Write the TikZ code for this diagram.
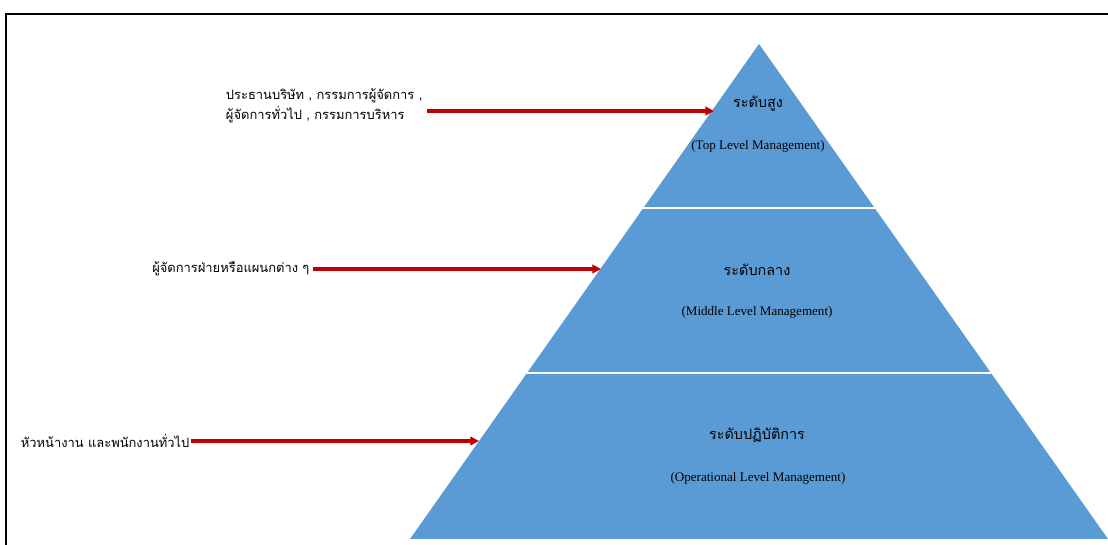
\documentclass[tikz,border=0pt]{standalone}
\usepackage{fontspec}
\setmainfont{Liberation Serif}
\newfontfamily\thai[Script=Thai]{Loma}
\usetikzlibrary{arrows.meta}
\definecolor{pyrblue}{RGB}{91,155,213}
\definecolor{arrred}{RGB}{192,0,0}
\tikzset{
  band/.style={fill=pyrblue, draw=none},
  divider/.style={draw=white, line width=1.1pt},
  frameline/.style={draw=black, line width=1.8pt},
  thlabel/.style={font=\thai\fontsize{10.8}{12}\selectfont, inner sep=0pt},
  enlabel/.style={font=\fontsize{9.8}{11}\selectfont, inner sep=0pt},
  sidetext/.style={font=\thai\fontsize{9.7}{15}\selectfont, inner sep=1pt, anchor=east, align=left},
  pointer/.style={draw=arrred, line width=2.3pt, -{Triangle[length=6.5pt,width=6.5pt]}}
}
\begin{document}
\begin{tikzpicture}[x=0.75pt, y=-0.75pt]
\useasboundingbox (0,0) rectangle (1108,545);
\clip (0,0) rectangle (1108,545);
\fill[white] (0,0) rectangle (1108,545);

% outer frame, open to the right and bottom
\draw[frameline] (6,14) rectangle (1140,580);

% pyramid
\coordinate (apex) at (759,44);
\coordinate (bl) at (410,539);
\coordinate (br) at (1108,539);
\fill[band] (apex) -- (br) -- (bl) -- cycle;
\coordinate (l1) at (643,208);
\coordinate (r1) at (875,208);
\coordinate (l2) at (527,373);
\coordinate (r2) at (991,373);
\draw[divider] (l1) -- (r1);
\draw[divider] (l2) -- (r2);

% level labels
\node[thlabel] (topth) at (758,104) {ระดับสูง};
\node[enlabel] (topen) at (758,146) {(Top Level Management)};
\node[thlabel] (midth) at (757,270) {ระดับกลาง};
\node[enlabel] (miden) at (757,312) {(Middle Level Management)};
\node[thlabel] (opth) at (757,435) {ระดับปฏิบัติการ};
\node[enlabel] (open) at (758,478) {(Operational Level Management)};

% side descriptions
\node[sidetext] (topside) at (424,106) {ประธานบริษัท , กรรมการผู้จัดการ ,\\ผู้จัดการทั่วไป , กรรมการบริหาร};
\node[sidetext] (midside) at (311,269) {ผู้จัดการฝ่ายหรือแผนกต่าง ๆ};
\node[sidetext] (opside) at (191,441) {หัวหน้างาน และพนักงานทั่วไป};

% pointers to the levels
\coordinate (toptip) at (714,111);
\coordinate (midtip) at (601,269);
\coordinate (optip) at (479,441);
\draw[pointer] (topside.east |- toptip) ++(3,0) -- (toptip);
\draw[pointer] (midside.east) ++(2,0) -- (midtip);
\draw[pointer] (opside.east) ++(0,0) -- (optip);
\end{tikzpicture}
\end{document}
